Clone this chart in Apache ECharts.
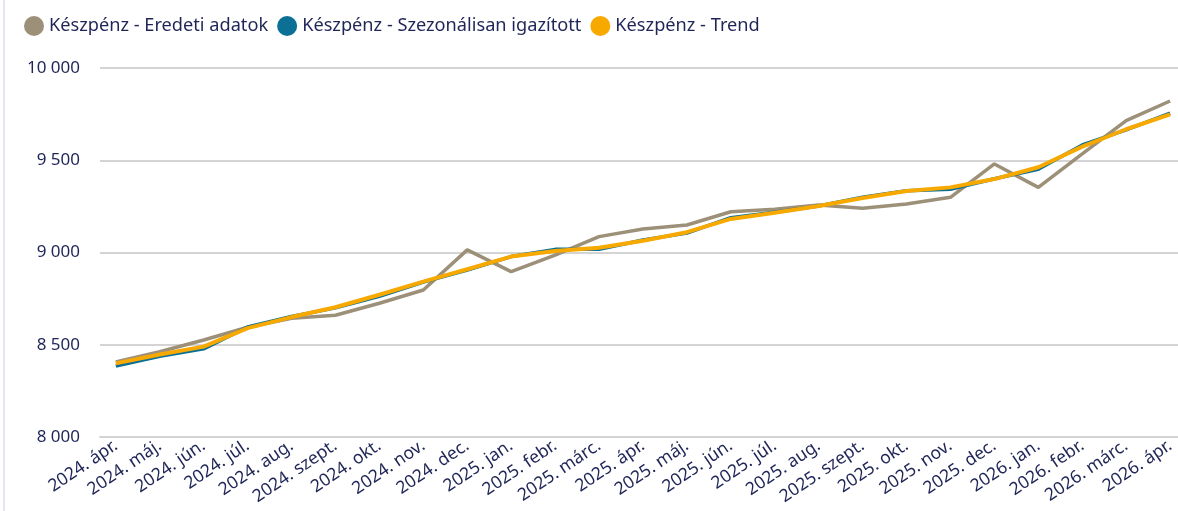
<!DOCTYPE html>
<html>
<head>
<meta charset="utf-8">
<script src="https://cdn.jsdelivr.net/npm/echarts@6/dist/echarts.min.js"></script>
<style>
  html, body { margin: 0; padding: 0; background: #fff; }
  #wrap { position: relative; width: 1178px; height: 511px; }
  #edge { position: absolute; left: 3px; top: 0; width: 2px; height: 511px; background: #e6e6ef; }
  #chart { width: 1178px; height: 511px; }
</style>
</head>
<body>
<div id="wrap">
  <div id="edge"></div>
  <div id="chart"></div>
</div>
<script>
// honapok
const months = [
  '2024. ápr.', '2024. máj.', '2024. jún.', '2024. júl.', '2024. aug.', '2024. szept.',
  '2024. okt.', '2024. nov.', '2024. dec.', '2025. jan.', '2025. febr.', '2025. márc.',
  '2025. ápr.', '2025. máj.', '2025. jún.', '2025. júl.', '2025. aug.', '2025. szept.',
  '2025. okt.', '2025. nov.', '2025. dec.', '2026. jan.', '2026. febr.', '2026. márc.',
  '2026. ápr.'
];
const names = ['Készpénz - Eredeti adatok', 'Készpénz - Szezonálisan igazított', 'Készpénz - Trend'];
const colors = ['#9d9079', '#0b6f96', '#f7a900'];

// eredeti adatok
const original = [8407, 8462, 8526, 8595, 8643, 8660, 8725, 8797, 9014, 8896, 8986, 9086,
  9127, 9149, 9221, 9235, 9257, 9240, 9263, 9299, 9480, 9353, 9534, 9715, 9821];
// szezonalisan igazitott
const seasonal = [8385, 8438, 8478, 8596, 8653, 8700, 8762, 8840, 8905, 8978, 9017, 9017,
  9068, 9105, 9189, 9218, 9252, 9300, 9335, 9343, 9400, 9451, 9583, 9665, 9755];
// trend
const trend = [8399, 8447, 8490, 8590, 8650, 8703, 8771, 8842, 8909, 8978, 9008, 9026,
  9064, 9110, 9182, 9216, 9252, 9295, 9333, 9353, 9398, 9462, 9574, 9668, 9749];

const yTicks = [8000, 8500, 9000, 9500, 10000];

const textColor = '#1f2557';
const font = 'Noto Sans';

const toPoints = arr => arr.map((v, i) => [i, v]);
const fmt = v => String(v).replace(/\B(?=(\d{3})+(?!\d))/g, ' ');

const chart = echarts.init(document.getElementById('chart'));

const option = {
  animation: false,
  color: colors,
  legend: {
    data: names,
    left: 19,
    top: 11,
    icon: 'circle',
    itemWidth: 20,
    itemHeight: 20,
    itemGap: 9,
    textStyle: { color: textColor, fontSize: 18.2, fontFamily: font }
  },
  grid: { left: 100, right: 0, top: 68, bottom: 74 },
  xAxis: {
    type: 'value',
    min: -0.36,
    max: 24.18,
    splitLine: { show: false },
    axisTick: { show: false },
    axisLine: { show: true, lineStyle: { color: '#d4d4d4', width: 2 } },
    axisLabel: {
      customValues: months.map((m, i) => i),
      formatter: v => months[Math.round(v)] || '',
      rotate: 34,
      margin: 7,
      color: textColor,
      fontSize: 17.5,
      fontFamily: font
    }
  },
  yAxis: {
    type: 'value',
    min: yTicks[0],
    max: yTicks[yTicks.length - 1],
    interval: 500,
    axisLine: { show: false },
    axisTick: { show: false },
    splitLine: { lineStyle: { color: '#d4d4d4', width: 2 } },
    axisLabel: {
      formatter: fmt,
      margin: 20,
      color: textColor,
      fontSize: 17,
      fontFamily: font
    }
  },
  series: [
    {
      name: names[0], type: 'line', data: toPoints(original),
      symbol: 'none', lineStyle: { width: 3.5, color: colors[0] }, z: 2
    },
    {
      name: names[1], type: 'line', data: toPoints(seasonal),
      symbol: 'none', lineStyle: { width: 3.5, color: colors[1] }, z: 3
    },
    {
      name: names[2], type: 'line', data: toPoints(trend),
      symbol: 'none', lineStyle: { width: 4, color: colors[2] }, z: 4
    }
  ]
};

chart.setOption(option);
</script>
</body>
</html>
